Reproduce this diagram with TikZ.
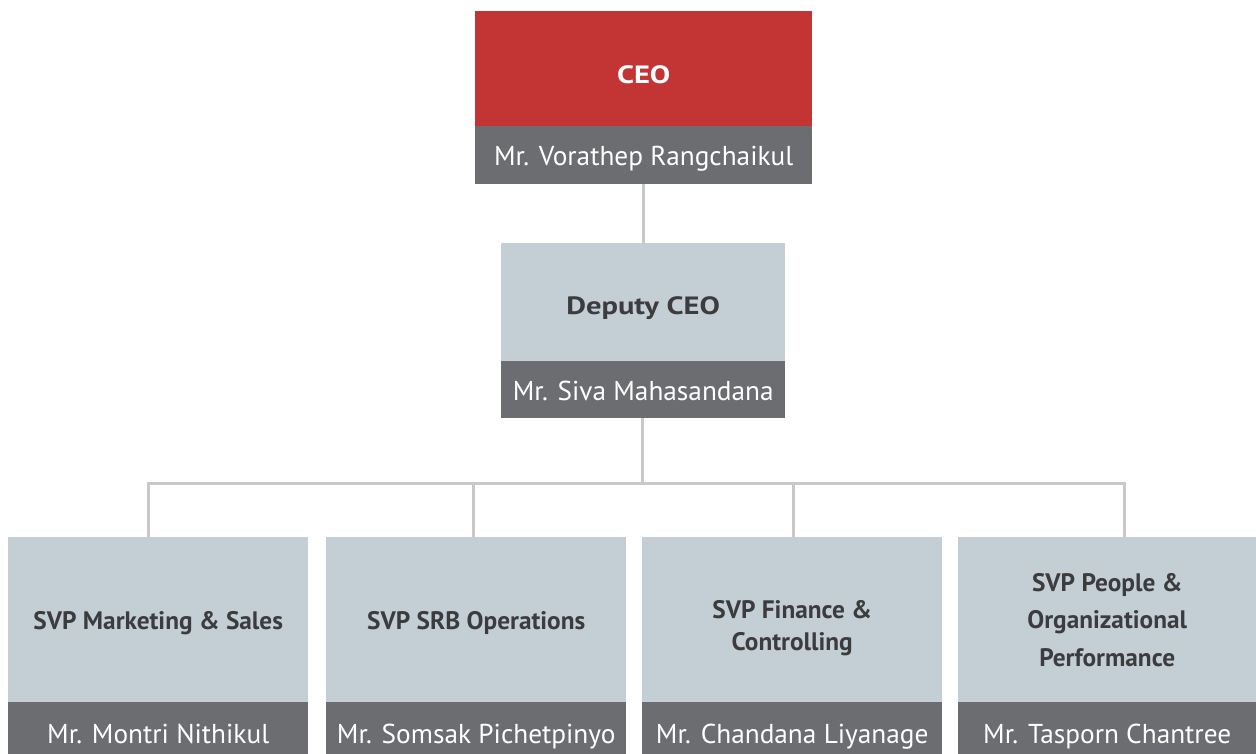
\documentclass[tikz,border=0pt]{standalone}
\usepackage{fontspec}
\setmainfont{PT Sans}
\newfontfamily\widetitle{PT Sans}[BoldFeatures={FakeStretch=1.22}]
\definecolor{ceored}{HTML}{C33535}
\definecolor{namegray}{HTML}{6C6D71}
\definecolor{boxblue}{HTML}{C4CFD5}
\definecolor{titletext}{HTML}{3C3C3E}
\definecolor{linkgray}{HTML}{C8C8C8}
\tikzset{
  titlebox/.style={rectangle, inner sep=0pt, anchor=north west, fill=boxblue,
    text=titletext, font=\fontsize{25.3}{32}\selectfont\bfseries, align=center},
  toptitle/.style={titlebox, font=\widetitle\fontsize{25}{30}\selectfont\bfseries},
  namebox/.style={rectangle, inner sep=0pt, anchor=north west, fill=namegray,
    text=white, font=\fontsize{27.3}{32}\selectfont, text depth=0pt},
  link/.style={draw=linkgray, line width=3pt}
}
\begin{document}
\begin{tikzpicture}[x=1pt,y=-1pt]
\useasboundingbox (0,0) rectangle (1256,754);
% CEO
\node[toptitle, fill=ceored, text=white, minimum width=337pt, minimum height=115pt,
      text height=28.9pt, text depth=0pt] (ceo) at (475,11) {CEO};
\node[namebox, minimum width=337pt, minimum height=58pt, text height=21.5pt] (ceoname) at (475,126) {Mr. Vorathep Rangchaikul};
% Deputy CEO
\node[toptitle, minimum width=284pt, minimum height=118pt,
      text height=24.5pt, text depth=0pt] (dep) at (501,243) {Deputy CEO};
\node[namebox, minimum width=284pt, minimum height=57pt, text height=22.1pt] (depname) at (501,361) {Mr. Siva Mahasandana};
% Senior vice presidents
\node[titlebox, minimum width=300pt, minimum height=165pt, text height=19.7pt, text depth=0pt] (s1) at (8,537) {SVP Marketing \& Sales};
\node[namebox, minimum width=300pt, minimum height=52pt, text height=30.3pt] (n1) at (8,702) {Mr. Montri Nithikul};
\node[titlebox, minimum width=300pt, minimum height=165pt, text height=19.7pt, text depth=0pt] (s2) at (326,537) {SVP SRB Operations};
\node[namebox, minimum width=300pt, minimum height=52pt, text height=30.3pt] (n2) at (326,702) {Mr. Somsak Pichetpinyo};
\node[titlebox, minimum width=300pt, minimum height=165pt] (s3) at (642,537) {\rule{0pt}{34pt}SVP Finance \&\\Controlling};
\node[namebox, minimum width=300pt, minimum height=52pt, text height=30.3pt] (n3) at (642,702) {Mr. Chandana Liyanage};
\node[titlebox, minimum width=298pt, minimum height=165pt,
      font=\fontsize{25.3}{37.5}\selectfont\bfseries] (s4) at (958,537) {SVP People \&\\Organizational\\Performance};
\node[namebox, minimum width=298pt, minimum height=52pt, text height=30.3pt] (n4) at (958,702) {Mr. Tasporn Chantree};
% Connectors
\coordinate (bus) at (642,483);
\coordinate (j1) at (148,483);
\coordinate (j2) at (473,483);
\coordinate (j3) at (793,483);
\coordinate (j4) at (1124,483);
\draw[link] (ceoname.south -| dep.north) -- (dep.north);
\draw[link] (depname.south -| bus) -- (bus);
\draw[link, line cap=rect] (j1) -- (j4);
\draw[link] (j1) -- (j1 |- s1.north);
\draw[link] (j2) -- (j2 |- s2.north);
\draw[link] (j3) -- (j3 |- s3.north);
\draw[link] (j4) -- (j4 |- s4.north);
\end{tikzpicture}
\end{document}
